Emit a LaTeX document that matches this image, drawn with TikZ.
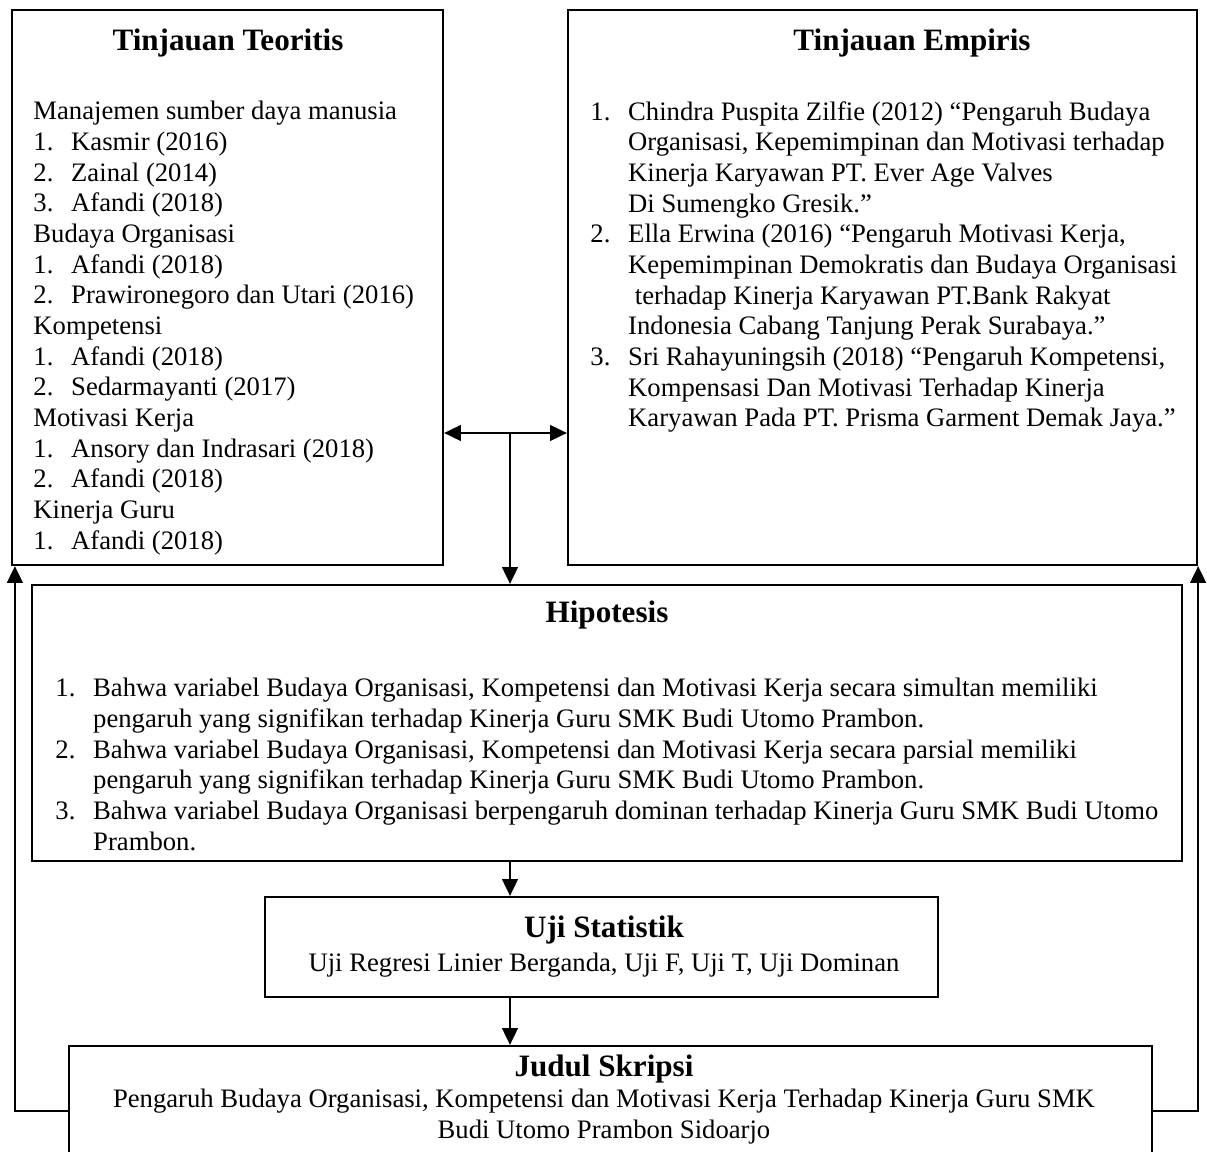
\documentclass[tikz,border=0pt]{standalone}
\usepackage{fontspec}
\setmainfont{Liberation Serif}
\usetikzlibrary{arrows.meta}
\usetikzlibrary{fit}
\usetikzlibrary{positioning}

\newcommand{\nomor}[1]{\makebox[17pt][l]{#1}}

\begin{document}
\begin{tikzpicture}[x=0.45pt, y=-0.45pt, line join=miter, >={Triangle[length=7.5pt,width=7pt]},
    kotak/.style={draw, line width=1pt, inner sep=0pt},
    judul/.style={font=\fontsize{14}{16}\selectfont\bfseries, inner sep=0pt},
    isi/.style={font=\fontsize{12}{13.8}\selectfont, align=left, anchor=north west, inner sep=0pt},
    isitengah/.style={font=\fontsize{12}{13.8}\selectfont, align=center, inner sep=0pt}]
  \useasboundingbox (0,0) rectangle (1207,1152);
  %--- Kotak
    \node[kotak, fit={(12,10) (443,565)}] (TT) {};
    \node[kotak, fit={(568,10) (1197,565)}] (TE) {};
    \node[kotak, fit={(32,585) (1182,861)}] (HI) {};
    \node[kotak, fit={(265,897) (938,997)}] (US) {};
    \node[kotak, fit={(69,1046) (1152,1176)}] (JS) {};
  %--- Teks
    \node[judul] (TTj) at (228,43) {Tinjauan Teoritis};
    \node[isi] (TTi) at (33,101) {Manajemen sumber daya manusia\\
      \nomor{1.}Kasmir (2016)\\
      \nomor{2.}Zainal (2014)\\
      \nomor{3.}Afandi (2018)\\
      Budaya Organisasi\\
      \nomor{1.}Afandi (2018)\\
      \nomor{2.}Prawironegoro dan Utari (2016)\\
      Kompetensi\\
      \nomor{1.}Afandi (2018)\\
      \nomor{2.}Sedarmayanti (2017)\\
      Motivasi Kerja\\
      \nomor{1.}Ansory dan Indrasari (2018)\\
      \nomor{2.}Afandi (2018)\\
      Kinerja Guru\\
      \nomor{1.}Afandi (2018)};
    \node[judul] (TEj) at (912,43) {Tinjauan Empiris};
    \node[isi] (TEi) at (590,101) {\nomor{1.}Chindra Puspita Zilfie (2012) “Pengaruh Budaya\\
      \nomor{}Organisasi, Kepemimpinan dan Motivasi terhadap\\
      \nomor{}Kinerja Karyawan PT. Ever Age Valves\\
      \nomor{}Di Sumengko Gresik.”\\
      \nomor{2.}Ella Erwina (2016) “Pengaruh Motivasi Kerja,\\
      \nomor{}Kepemimpinan Demokratis dan Budaya Organisasi\\
      \nomor{}\ terhadap Kinerja Karyawan PT.Bank Rakyat\\
      \nomor{}Indonesia Cabang Tanjung Perak Surabaya.”\\
      \nomor{3.}Sri Rahayuningsih (2018) “Pengaruh Kompetensi,\\
      \nomor{}Kompensasi Dan Motivasi Terhadap Kinerja\\
      \nomor{}Karyawan Pada PT. Prisma Garment Demak Jaya.”};
    \node[judul] (HIj) at (607,615) {Hipotesis};
    \node[isi] (HIi) at (55,678) {\nomor{1.}Bahwa variabel Budaya Organisasi, Kompetensi dan Motivasi Kerja secara simultan memiliki\\
      \nomor{}pengaruh yang signifikan terhadap Kinerja Guru SMK Budi Utomo Prambon.\\
      \nomor{2.}Bahwa variabel Budaya Organisasi, Kompetensi dan Motivasi Kerja secara parsial memiliki\\
      \nomor{}pengaruh yang signifikan terhadap Kinerja Guru SMK Budi Utomo Prambon.\\
      \nomor{3.}Bahwa variabel Budaya Organisasi berpengaruh dominan terhadap Kinerja Guru SMK Budi Utomo\\
      \nomor{}Prambon.};
    \node[judul] (USj) at (604,930) {Uji Statistik};
    \node[isitengah, below=3.6pt of USj] (USi) {Uji Regresi Linier Berganda, Uji F, Uji T, Uji Dominan};
    \node[judul] (JSj) at (604,1069) {Judul Skripsi};
    \node[isitengah, below=2.2pt of JSj] (JSi) {Pengaruh Budaya Organisasi, Kompetensi dan Motivasi Kerja Terhadap Kinerja Guru SMK\\
      Budi Utomo Prambon Sidoarjo};
  %--- Panah
    \coordinate (P) at (510,433);
    \draw[<->, line width=1pt] (P -| TT.east) -- (P -| TE.west);
    \draw[->, line width=1pt] (P) -- (P |- HI.north);
    \draw[->, line width=1pt] (HI.south -| P) -- (US.north -| P);
    \draw[->, line width=1pt] (US.south -| P) -- (JS.north -| P);
    \draw[->, line width=1pt] (JS.west) -| ([xshift=1.8pt]TT.south west);
    \draw[->, line width=1pt] (JS.east) -| (TE.south east);
  %---
\end{tikzpicture}
\end{document}
